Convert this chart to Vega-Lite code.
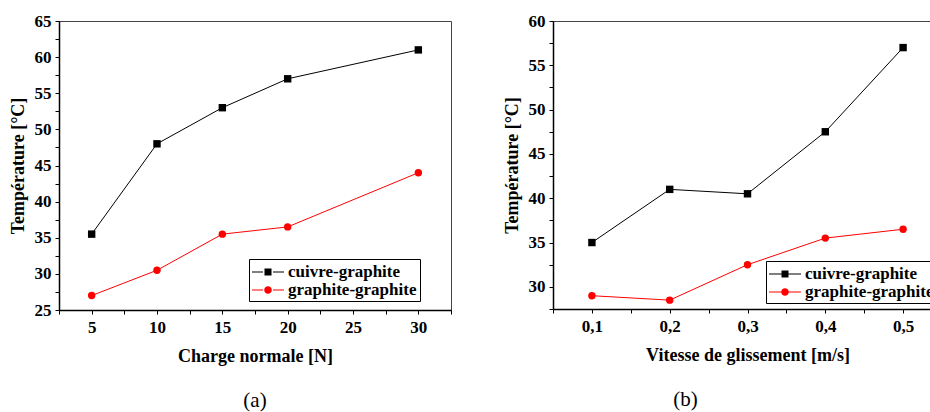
{
  "$schema": "https://vega.github.io/schema/vega-lite/v6.json",
  "background": "white",
  "padding": {"left": 8, "top": 11, "right": 0, "bottom": 0},
  "spacing": 50,
  "resolve": {"scale": {"color": "independent", "shape": "independent"}},
  "datasets": {
    "charge": [
      {"charge": 5, "temp": 35.5, "serie": "cuivre-graphite"},
      {"charge": 10, "temp": 48, "serie": "cuivre-graphite"},
      {"charge": 15, "temp": 53, "serie": "cuivre-graphite"},
      {"charge": 20, "temp": 57, "serie": "cuivre-graphite"},
      {"charge": 30, "temp": 61, "serie": "cuivre-graphite"},
      {"charge": 5, "temp": 27, "serie": "graphite-graphite"},
      {"charge": 10, "temp": 30.5, "serie": "graphite-graphite"},
      {"charge": 15, "temp": 35.5, "serie": "graphite-graphite"},
      {"charge": 20, "temp": 36.5, "serie": "graphite-graphite"},
      {"charge": 30, "temp": 44, "serie": "graphite-graphite"}
    ],
    "vitesse": [
      {"vitesse": 0.1, "temp": 35, "serie": "cuivre-graphite"},
      {"vitesse": 0.2, "temp": 41, "serie": "cuivre-graphite"},
      {"vitesse": 0.3, "temp": 40.5, "serie": "cuivre-graphite"},
      {"vitesse": 0.4, "temp": 47.5, "serie": "cuivre-graphite"},
      {"vitesse": 0.5, "temp": 57, "serie": "cuivre-graphite"},
      {"vitesse": 0.1, "temp": 29, "serie": "graphite-graphite"},
      {"vitesse": 0.2, "temp": 28.5, "serie": "graphite-graphite"},
      {"vitesse": 0.3, "temp": 32.5, "serie": "graphite-graphite"},
      {"vitesse": 0.4, "temp": 35.5, "serie": "graphite-graphite"},
      {"vitesse": 0.5, "temp": 36.5, "serie": "graphite-graphite"}
    ]
  },
  "config": {
    "view": {"stroke": "#444", "strokeWidth": 1},
    "axis": {
      "grid": false,
      "labelOverlap": false,
      "tickCount": 100,
      "domainColor": "black",
      "domainWidth": 1.5,
      "tickColor": "black",
      "tickWidth": 1,
      "tickSize": 4,
      "labelFont": "Liberation Serif",
      "labelFontSize": 17,
      "labelFontWeight": "bold",
      "labelColor": "black",
      "labelPadding": 4,
      "titleFont": "Liberation Serif",
      "titleFontSize": 18,
      "titleFontWeight": "bold",
      "titleColor": "black"
    },
    "axisX": {"labelPadding": 5, "titlePadding": 12},
    "axisY": {"titlePadding": 7},
    "legend": {
      "fillColor": "white",
      "strokeColor": "black",
      "padding": 3,
      "rowPadding": 0,
      "symbolSize": 400,
      "symbolOffset": 6,
      "labelOffset": 10,
      "symbolStrokeWidth": 0,
      "symbolOpacity": 1,
      "labelFont": "Liberation Serif",
      "labelFontSize": 17,
      "labelFontWeight": "bold",
      "labelColor": "black",
      "labelLimit": 300
    },
    "title": {"font": "Liberation Serif", "fontSize": 21, "fontWeight": "normal", "color": "black", "orient": "bottom", "offset": 25}
  },
  "hconcat": [
    {
      "width": 392,
      "height": 289,
      "title": {"text": "(a)"},
      "data": {"name": "charge"},
      "layer": [
        {
          "mark": {"type": "line", "strokeWidth": 1},
          "encoding": {
            "x": {
              "field": "charge", "type": "quantitative",
              "scale": {"domain": [2.5, 32.5], "nice": false, "zero": false},
              "axis": {
                "title": "Charge normale [N]",
                "values": [2.5, 5, 7.5, 10, 12.5, 15, 17.5, 20, 22.5, 25, 27.5, 30, 32.5],
                "labelExpr": "datum.value % 5 === 0 ? format(datum.value, 'd') : ''"
              }
            },
            "y": {
              "field": "temp", "type": "quantitative",
              "scale": {"domain": [25, 65], "nice": false, "zero": false},
              "axis": {
                "title": "Température [°C]",
                "values": [25, 27.5, 30, 32.5, 35, 37.5, 40, 42.5, 45, 47.5, 50, 52.5, 55, 57.5, 60, 62.5, 65],
                "labelExpr": "datum.value % 5 === 0 ? format(datum.value, 'd') : ''"
              }
            },
            "color": {
              "field": "serie", "type": "nominal",
              "scale": {"domain": ["cuivre-graphite", "graphite-graphite"], "range": ["black", "#ff0000"]}
            }
          }
        },
        {
          "transform": [{"filter": "datum.serie === 'cuivre-graphite'"}],
          "mark": {"type": "point", "shape": "square", "filled": true, "color": "black", "opacity": 1, "size": 55},
          "encoding": {
            "x": {"field": "charge", "type": "quantitative"},
            "y": {"field": "temp", "type": "quantitative"}
          }
        },
        {
          "transform": [{"filter": "datum.serie === 'graphite-graphite'"}],
          "mark": {"type": "point", "shape": "circle", "filled": true, "color": "#ff0000", "opacity": 1, "size": 55},
          "encoding": {
            "x": {"field": "charge", "type": "quantitative"},
            "y": {"field": "temp", "type": "quantitative"}
          }
        },
        {
          "transform": [{"filter": "datum.temp < 0"}],
          "mark": {"type": "point", "filled": true, "opacity": 1, "size": 400},
          "encoding": {
            "x": {"field": "charge", "type": "quantitative"},
            "y": {"field": "temp", "type": "quantitative"},
            "color": {
              "field": "serie", "type": "nominal",
              "scale": {"domain": ["cuivre-graphite", "graphite-graphite"], "range": ["black", "#ff0000"]},
              "legend": {"title": null, "orient": "none", "legendX": 190, "legendY": 238, "symbolSize": 400}
            },
            "shape": {
              "field": "serie", "type": "nominal",
              "scale": {"domain": ["cuivre-graphite", "graphite-graphite"], "range": ["M-1.6,-0.05H-0.5V0.05H-1.6Z M0.5,-0.05H1.6V0.05H0.5Z M-0.35,-0.35H0.35V0.35H-0.35Z", "M-1.6,-0.05H-0.5V0.05H-1.6Z M0.5,-0.05H1.6V0.05H0.5Z M0.38,0A0.38,0.38 0 1,1 -0.38,0A0.38,0.38 0 1,1 0.38,0Z"]},
              "legend": {"title": null, "orient": "none", "legendX": 190, "legendY": 238, "symbolSize": 400}
            }
          }
        }
      ]
    },
    {
      "width": 389,
      "height": 288,
      "title": {"text": "(b)", "dx": -62},
      "data": {"name": "vitesse"},
      "layer": [
        {
          "mark": {"type": "line", "strokeWidth": 1},
          "encoding": {
            "x": {
              "field": "vitesse", "type": "quantitative",
              "scale": {"domain": [0.05, 0.55], "nice": false, "zero": false},
              "axis": {
                "title": "Vitesse de glissement [m/s]",
                "values": [0.05, 0.1, 0.15, 0.2, 0.25, 0.3, 0.35, 0.4, 0.45, 0.5, 0.55],
                "labelExpr": "round(datum.value * 100) % 10 === 0 ? replace(format(datum.value, '.1f'), '.', ',') : ''"
              }
            },
            "y": {
              "field": "temp", "type": "quantitative",
              "scale": {"domain": [27.5, 60], "nice": false, "zero": false},
              "axis": {
                "title": "Température [°C]",
                "values": [27.5, 30, 32.5, 35, 37.5, 40, 42.5, 45, 47.5, 50, 52.5, 55, 57.5, 60],
                "labelExpr": "datum.value % 5 === 0 ? format(datum.value, 'd') : ''"
              }
            },
            "color": {
              "field": "serie", "type": "nominal",
              "scale": {"domain": ["cuivre-graphite", "graphite-graphite"], "range": ["black", "#ff0000"]}
            }
          }
        },
        {
          "transform": [{"filter": "datum.serie === 'cuivre-graphite'"}],
          "mark": {"type": "point", "shape": "square", "filled": true, "color": "black", "opacity": 1, "size": 55},
          "encoding": {
            "x": {"field": "vitesse", "type": "quantitative"},
            "y": {"field": "temp", "type": "quantitative"}
          }
        },
        {
          "transform": [{"filter": "datum.serie === 'graphite-graphite'"}],
          "mark": {"type": "point", "shape": "circle", "filled": true, "color": "#ff0000", "opacity": 1, "size": 55},
          "encoding": {
            "x": {"field": "vitesse", "type": "quantitative"},
            "y": {"field": "temp", "type": "quantitative"}
          }
        },
        {
          "transform": [{"filter": "datum.temp < 0"}],
          "mark": {"type": "point", "filled": true, "opacity": 1, "size": 400},
          "encoding": {
            "x": {"field": "vitesse", "type": "quantitative"},
            "y": {"field": "temp", "type": "quantitative"},
            "color": {
              "field": "serie", "type": "nominal",
              "scale": {"domain": ["cuivre-graphite", "graphite-graphite"], "range": ["black", "#ff0000"]},
              "legend": {"title": null, "orient": "none", "legendX": 213, "legendY": 240, "symbolSize": 400}
            },
            "shape": {
              "field": "serie", "type": "nominal",
              "scale": {"domain": ["cuivre-graphite", "graphite-graphite"], "range": ["M-1.6,-0.05H1.6V0.05H-1.6Z M-0.35,-0.35H0.35V0.35H-0.35Z", "M-1.6,-0.05H1.6V0.05H-1.6Z M0.38,0A0.38,0.38 0 1,1 -0.38,0A0.38,0.38 0 1,1 0.38,0Z"]},
              "legend": {"title": null, "orient": "none", "legendX": 213, "legendY": 240, "symbolSize": 400}
            }
          }
        }
      ]
    }
  ]
}
